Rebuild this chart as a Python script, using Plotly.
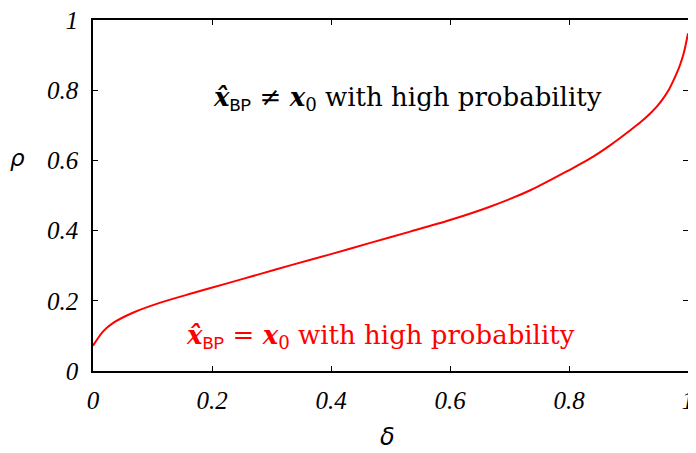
import plotly.graph_objects as go

delta = [0, 0.003, 0.017, 0.034, 0.067, 0.112, 0.168, 0.224, 0.280, 0.336, 0.400, 0.466,
         0.533, 0.600, 0.667, 0.735, 0.802, 0.835, 0.869, 0.903, 0.921, 0.936, 0.949, 0.959,
         0.968, 0.975, 0.982, 0.987, 0.992, 0.995, 1.0]
rho = [0.072, 0.080, 0.113, 0.137, 0.166, 0.194, 0.222, 0.249, 0.276, 0.303, 0.333, 0.365,
       0.397, 0.430, 0.468, 0.515, 0.574, 0.605, 0.643, 0.686, 0.710, 0.733, 0.756, 0.778,
       0.802, 0.826, 0.852, 0.874, 0.900, 0.921, 0.962]
tick_vals = [0, 0.2, 0.4, 0.6, 0.8, 1]
tick_text = ["0", "0.2", "0.4", "0.6", "0.8", "1"]

fig = go.Figure()
fig.add_trace(go.Scatter(x=delta, y=rho, mode="lines",
                         line=dict(color="#ff0000", width=2, shape="spline", smoothing=0.8),
                         hoverinfo="skip", showlegend=False))

axis_common = dict(
    range=[0, 1], tickvals=tick_vals, ticktext=tick_text, ticks="inside", ticklen=5,
    tickcolor="black", showline=True, linecolor="black", linewidth=1.5, mirror="ticks",
    showgrid=False, zeroline=False, automargin=False, ticklabeloverflow="allow",
    tickfont=dict(family="Liberation Serif", size=25, color="black", style="italic"),
)
fig.update_xaxes(**axis_common, ticklabelstandoff=6)
fig.update_yaxes(**axis_common, ticklabelstandoff=8)

mono = "<span style='font-family:Liberation Mono;font-style:normal;font-weight:normal'>BP</span>"
txt_ne = ("<b><i>x&#770;</i></b><sub>" + mono + "</sub>&nbsp;&#8800;&nbsp;<b><i>x</i></b><sub>0</sub>&nbsp;with high probability")
txt_eq = ("<b><i>x&#770;</i></b><sub>" + mono + "</sub>&nbsp;=&nbsp;<b><i>x</i></b><sub>0</sub>&nbsp;with high probability")

# page offset of the figure div (browser body margin)
off = 8
x0, x1, ytop, ybot = 93, 688, 20, 371   # plot-area edges in page pixels
W, H = x1 - x0, ybot - ytop
figw, figh = 696 - off, 453 - off


def px(xp):
    return (xp - x0) / W


def py(yp):
    return (ybot - yp) / H


fig.update_layout(
    width=figw, height=figh,
    margin=dict(l=x0 - off, r=figw - (x1 - off), t=ytop - off, b=figh - (ybot - off), autoexpand=False),
    plot_bgcolor="white", paper_bgcolor="white",
    annotations=[
        dict(x=0.529, y=0.775, xref="x", yref="y", text=txt_ne, showarrow=False,
             font=dict(family="DejaVu Serif", size=26, color="black")),
        dict(x=0.484, y=0.096, xref="x", yref="y", text=txt_eq, showarrow=False,
             font=dict(family="DejaVu Serif", size=26, color="#ff0000")),
        dict(x=px(17), y=py(158), xref="paper", yref="paper", text="<i>ρ</i>", showarrow=False,
             xanchor="center", yanchor="middle",
             font=dict(family="DejaVu Sans", size=23, color="black")),
        dict(x=px(387), y=py(437), xref="paper", yref="paper", text="<i>δ</i>", showarrow=False,
             xanchor="center", yanchor="middle",
             font=dict(family="DejaVu Sans", size=24, color="black")),
    ],
)

fig.write_html("out.html")
